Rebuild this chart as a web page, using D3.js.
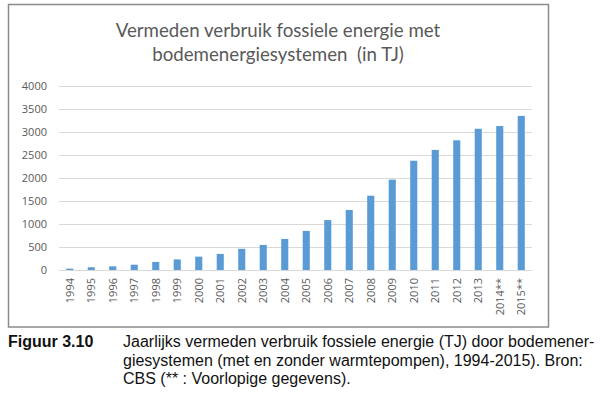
<!DOCTYPE html>
<html>
<head>
<meta charset="utf-8">
<script src="https://cdn.jsdelivr.net/npm/d3@7"></script>
<style>
  html, body { margin: 0; padding: 0; background: #fff; }
  svg { display: block; }
</style>
</head>
<body>
<svg id="chart" width="600" height="395"></svg>
<script>
const years = ["1994","1995","1996","1997","1998","1999","2000","2001","2002","2003","2004",
  "2005","2006","2007","2008","2009","2010","2011","2012","2013","2014**","2015**"];
const values = [30, 60, 80, 115, 175, 230, 290, 350, 460, 545, 675,
  850, 1085, 1305, 1615, 1965, 2375, 2610, 2820, 3070, 3130, 3350];
const yTicks = [0, 500, 1000, 1500, 2000, 2500, 3000, 3500, 4000];
const titleLines = ["Vermeden verbruik fossiele energie met", "bodemenergiesystemen  (in TJ)"];
const captionLabel = "Figuur 3.10";
const captionLines = [
  "Jaarlijks vermeden verbruik fossiele energie (TJ) door bodemener-",
  "giesystemen (met en zonder warmtepompen), 1994-2015). Bron:",
  "CBS (** : Voorlopige gegevens)."
];

const svg = d3.select("#chart");

// chart frame
svg.append("rect").attr("x", 8.5).attr("y", 4.5).attr("width", 540).attr("height", 322.5)
  .attr("fill", "#fff").attr("stroke", "#8c8c8c").attr("stroke-width", 1.5);

const x = d3.scaleBand().domain(years).range([59, 532]).paddingInner(0.67).paddingOuter(0.335);
const y = d3.scaleLinear().domain([0, 4000]).range([270, 86]);

// gridlines
svg.append("g").selectAll("line").data(yTicks).join("line")
  .attr("x1", 59).attr("x2", 532)
  .attr("y1", d => y(d) + 0.5).attr("y2", d => y(d) + 0.5)
  .attr("stroke", "#d9d9d9").attr("stroke-width", 1);

// y axis labels
const yAxis = d3.axisLeft(y).tickValues(yTicks).tickSize(0).tickPadding(0).tickFormat(d3.format("d"));
const gy = svg.append("g").attr("transform", "translate(47,0)").call(yAxis);
gy.select(".domain").remove();
gy.selectAll("text").attr("font-family", "'Open Sans', sans-serif").attr("font-size", 11)
  .attr("fill", "#595959").attr("dy", "0.35em");

// bars
svg.append("g").selectAll("rect").data(values).join("rect")
  .attr("x", (d, i) => x(years[i]))
  .attr("width", x.bandwidth())
  .attr("y", d => y(d))
  .attr("height", d => y(0) - y(d))
  .attr("fill", "#5b9bd5");

// x axis
const xAxis = d3.axisBottom(x).tickSize(0).tickPadding(0);
const gx = svg.append("g").attr("transform", "translate(0,270)").call(xAxis);
gx.select(".domain").attr("stroke", "#d9d9d9");
gx.selectAll("text")
  .attr("font-family", "'Open Sans', sans-serif").attr("font-size", 11).attr("fill", "#595959")
  .attr("transform", "rotate(-90)")
  .attr("text-anchor", "end")
  .attr("x", -8).attr("y", 0).attr("dy", "0.35em");

// title
svg.append("g").selectAll("text").data(titleLines).join("text")
  .attr("x", 278).attr("y", (d, i) => 37 + i * 23.5)
  .attr("text-anchor", "middle")
  .attr("font-family", "Lato, 'Open Sans', sans-serif").attr("font-size", 18.7)
  .attr("fill", "#595959").style("white-space", "pre")
  .text(d => d);

// caption
svg.append("text").attr("x", 8).attr("y", 347)
  .attr("font-family", "'Liberation Sans', Arial, sans-serif").attr("font-size", 16)
  .attr("font-weight", "bold").attr("fill", "#111").text(captionLabel);
svg.append("g").selectAll("text").data(captionLines).join("text")
  .attr("x", 123).attr("y", (d, i) => 347 + i * 18.5)
  .attr("font-family", "'Liberation Sans', Arial, sans-serif").attr("font-size", 16)
  .attr("fill", "#111").text(d => d);
</script>
</body>
</html>
